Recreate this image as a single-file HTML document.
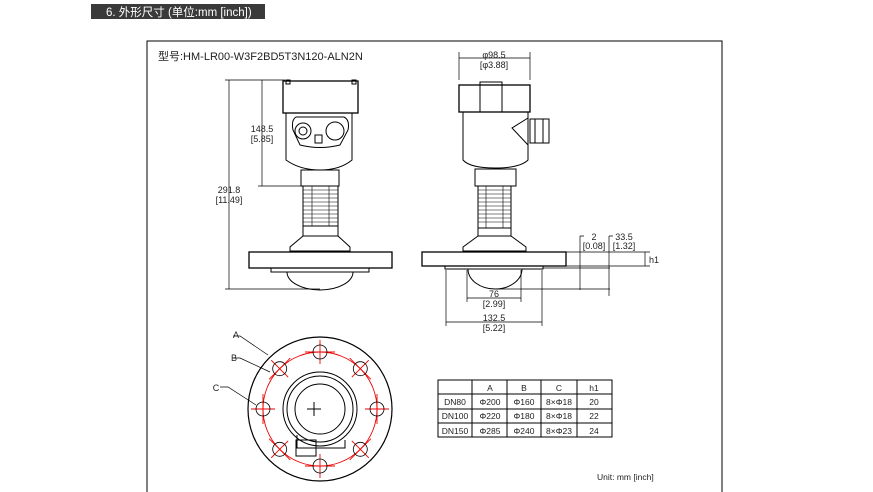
<!DOCTYPE html>
<html><head><meta charset="utf-8"><style>
html,body{margin:0;padding:0;background:#fff;}
svg{display:block;font-family:"Liberation Sans","Noto Sans CJK SC",sans-serif;}
</style></head><body>
<svg width="873" height="492" viewBox="0 0 873 492" xmlns="http://www.w3.org/2000/svg">
<rect x="91" y="4" width="174" height="15" fill="#3a3a3a"/>
<text x="106" y="16" font-size="11.5" fill="#fff" font-family="'Liberation Sans','Noto Sans CJK SC',sans-serif">6. 外形尺寸 (单位:mm [inch])</text>
<path d="M147 492 V41 H722 V492" fill="none" stroke="#000" stroke-width="1"/>
<text x="158" y="60" font-size="11" fill="#222">型号:HM-LR00-W3F2BD5T3N120-ALN2N</text>

<g fill="none" stroke="#000" stroke-width="1">
<!-- left view -->
<rect x="283" y="81" width="75" height="32" stroke-width="1.3"/>
<rect x="286" y="80" width="4" height="4"/><rect x="352" y="80" width="4" height="4"/>
<path d="M286 113 H352 V160 Q340 170 320 170 Q300 170 286 160 Z"/>
<path d="M296 117 H344 Q350 120 348 130 L340 145 Q320 150 300 145 L293 130 Q291 120 296 117Z"/>
<circle cx="303" cy="131" r="8"/><circle cx="303" cy="131" r="4"/>
<circle cx="335" cy="131" r="9"/>
<rect x="315" y="135" width="7" height="8"/>
<rect x="301" y="170" width="38" height="16"/>
<rect x="303" y="186" width="35" height="40"/>
<path d="M303 190H338M303 194H338M303 198H338M303 202H338M303 206H338M303 210H338M303 214H338M303 218H338M303 222H338" stroke-width="0.6"/>
<path d="M312 186V226M329 186V226" stroke-width="0.6"/>
<rect x="303" y="226" width="35" height="10"/>
<path d="M303 236 L290 247 V251 H350 V247 L338 236"/>
<rect x="249" y="252" width="143" height="16" stroke-width="1.3"/>
<rect x="271" y="268" width="98" height="4"/>
<path d="M287 272 A33 18 0 0 0 353 272"/>
<!-- left dims -->
<path d="M229 80 V289 M225 80 H285 M225 289 H320 M262 80 V186 M258 186 H301" stroke-width="0.7"/>
<!-- right view -->
<rect x="459" y="85" width="71" height="27" stroke-width="1.3"/>
<rect x="480" y="82" width="22" height="30"/>
<path d="M463 112 H528 V160 Q520 168 495 168 Q470 168 463 160 Z"/>
<path d="M528 118 L512 128 L528 145 Z"/>
<rect x="530" y="119" width="19" height="24"/><path d="M535 119V143M543 119V143"/>
<rect x="475" y="169" width="41" height="17"/>
<rect x="478" y="186" width="33" height="42"/>
<path d="M478 190H511M478 194H511M478 198H511M478 202H511M478 206H511M478 210H511M478 214H511M478 218H511M478 222H511" stroke-width="0.6"/>
<path d="M486 186V228M503 186V228" stroke-width="0.6"/>
<rect x="478" y="228" width="33" height="8"/>
<path d="M478 236 L463 247 V251 H526 V247 L511 236"/>
<rect x="422" y="252" width="144" height="14" stroke-width="1.3"/>
<rect x="445" y="266" width="98" height="3"/>
<path d="M468 269 A27 20 0 0 0 522 269"/>
<!-- right dims -->
<path d="M459 52 V80 M530 52 V80 M459 58 H530" stroke-width="0.7"/>
<path d="M467 270 V302 M521 270 V302 M467 298 H521 M446 270 V326 M542 270 V326 M446 322 H542" stroke-width="0.7"/>
<path d="M566 252 H650 M566 266 H650 M543 268 H610 M494 289 H610 M645 252 V266 M580 236 V290 M609 236 V296 M580 236 H584 M609 236 H613" stroke-width="0.7"/>
<!-- bottom view -->
<circle cx="320" cy="409" r="72" stroke-width="1.2"/>
<circle cx="320" cy="409" r="37"/><circle cx="320" cy="409" r="33"/><circle cx="320" cy="409" r="25"/>
<path d="M297 435 V448 H345 V440" />
<rect x="296" y="440" width="20" height="16"/>
<path d="M314 402V416M307 409H321" stroke-width="1"/>
<path d="M233 336 H240 L268 355 M232 358 H240 L270 372 M220 387 H228 L256 405" stroke-width="0.7"/>
</g>
<g fill="none" stroke="#e00" stroke-width="0.9">
<circle cx="320" cy="409" r="57"/>
<g id="h">
<line x1="305" y1="352" x2="335" y2="352"/><line x1="320" y1="340" x2="320" y2="364"/>
</g>
<use href="#h" transform="rotate(45 320 409)"/><use href="#h" transform="rotate(90 320 409)"/><use href="#h" transform="rotate(135 320 409)"/><use href="#h" transform="rotate(180 320 409)"/><use href="#h" transform="rotate(225 320 409)"/><use href="#h" transform="rotate(270 320 409)"/><use href="#h" transform="rotate(315 320 409)"/>
</g>
<g fill="none" stroke="#000" stroke-width="0.8">
<circle cx="320" cy="352" r="7"/><circle cx="360.3" cy="368.7" r="7"/><circle cx="377" cy="409" r="7"/><circle cx="360.3" cy="449.3" r="7"/><circle cx="320" cy="466" r="7"/><circle cx="279.7" cy="449.3" r="7"/><circle cx="263" cy="409" r="7"/><circle cx="279.7" cy="368.7" r="7"/>
</g>
<g font-size="9" fill="#222" text-anchor="middle">
<text x="262" y="132">148.5</text><text x="262" y="142">[5.85]</text>
<text x="229" y="193">291.8</text><text x="229" y="203">[11.49]</text>
<text x="494" y="58">φ98.5</text><text x="494" y="68">[φ3.88]</text>
<text x="594" y="240">2</text><text x="594" y="249">[0.08]</text>
<text x="624" y="240">33.5</text><text x="624" y="249">[1.32]</text>
<text x="494" y="297">76</text><text x="494" y="307">[2.99]</text>
<text x="494" y="321">132.5</text><text x="494" y="331">[5.22]</text>
<text x="236" y="338">A</text><text x="234" y="361">B</text><text x="216" y="391">C</text>
</g>
<text x="649" y="263" font-size="9" fill="#222">h1</text>
<!-- table -->
<g stroke="#000" stroke-width="1" fill="none">
<rect x="438" y="380" width="174" height="57"/>
<path d="M472 380V437M507 380V437M541 380V437M577 380V437M438 394H612M438 409H612M438 423H612"/>
</g>
<g font-size="8.5" fill="#222" text-anchor="middle">
<text x="490" y="391">A</text><text x="524" y="391">B</text><text x="559" y="391">C</text><text x="594" y="391">h1</text>
<text x="455" y="405">DN80</text><text x="490" y="405">Φ200</text><text x="524" y="405">Φ160</text><text x="559" y="405">8×Φ18</text><text x="594" y="405">20</text>
<text x="455" y="419">DN100</text><text x="490" y="419">Φ220</text><text x="524" y="419">Φ180</text><text x="559" y="419">8×Φ18</text><text x="594" y="419">22</text>
<text x="455" y="434">DN150</text><text x="490" y="434">Φ285</text><text x="524" y="434">Φ240</text><text x="559" y="434">8×Φ23</text><text x="594" y="434">24</text>
</g>
<text x="597" y="480" font-size="8.5" fill="#222">Unit: mm [inch]</text>
</svg>
</body></html>
